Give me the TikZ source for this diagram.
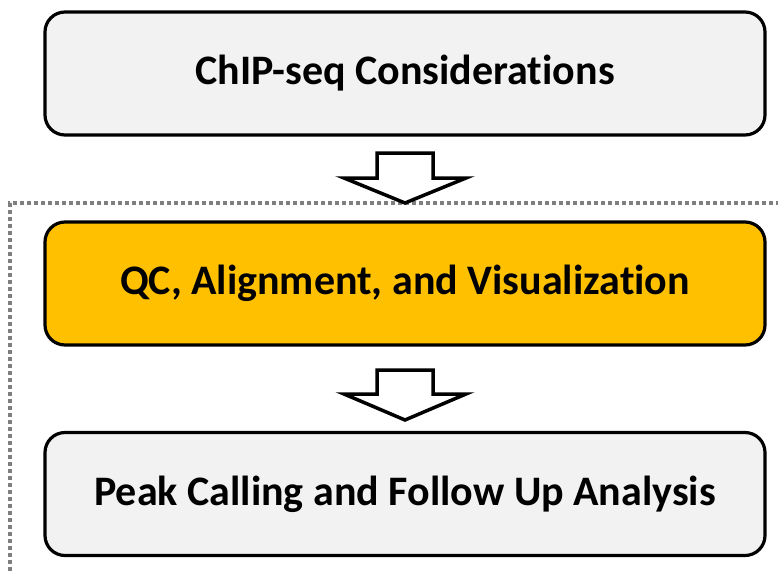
\documentclass[tikz,border=0pt]{standalone}
\usepackage{fontspec}
\setmainfont[RawFeature=-liga]{Carlito}
\usetikzlibrary{positioning}
\definecolor{boxgray}{HTML}{F2F2F2}
\definecolor{stepgold}{HTML}{FFC000}
\definecolor{frameline}{HTML}{7F7F7F}
\tikzset{
  stagebox/.style={draw=black, line width=3.2pt, rounded corners=20pt,
    minimum width=720pt, minimum height=123pt, inner sep=0pt,
    font=\bfseries\fontsize{42}{50}\selectfont, text=black},
  downarrow/.style={draw=black, line width=3.5pt, fill=white, line join=miter},
  framedots/.style={draw=frameline, line width=3.2pt, dash pattern=on 4pt off 3pt}
}
\begin{document}
\begin{tikzpicture}[x=1pt, y=-1pt]
  \useasboundingbox (0,0) rectangle (778,570);

  % stage boxes
  \node[stagebox, fill=boxgray] (consider) at (405,73.5) {ChIP-seq Considerations};
  \node[stagebox, fill=stepgold] (qc) at (405,283.5) {QC, Alignment, and Visualization};
  \node[stagebox, fill=boxgray] (peaks) at (405,494) {Peak Calling and Follow Up Analysis};

  % dotted frame around the processing stages
  \coordinate (frameR) at (780,203);
  \coordinate (frameC) at (10,203);
  \coordinate (frameB) at (10,572);
  \draw[framedots] (frameR) -- (frameC) -- (frameB);

  % block arrows between stages
  \draw[downarrow] (377,153) -- (433,153) -- (433,178) -- (466,178) -- (405,203)
    -- (344,178) -- (377,178) -- cycle;
  \draw[downarrow] (377,370) -- (433,370) -- (433,394) -- (466,394) -- (405,420)
    -- (344,394) -- (377,394) -- cycle;
\end{tikzpicture}
\end{document}
